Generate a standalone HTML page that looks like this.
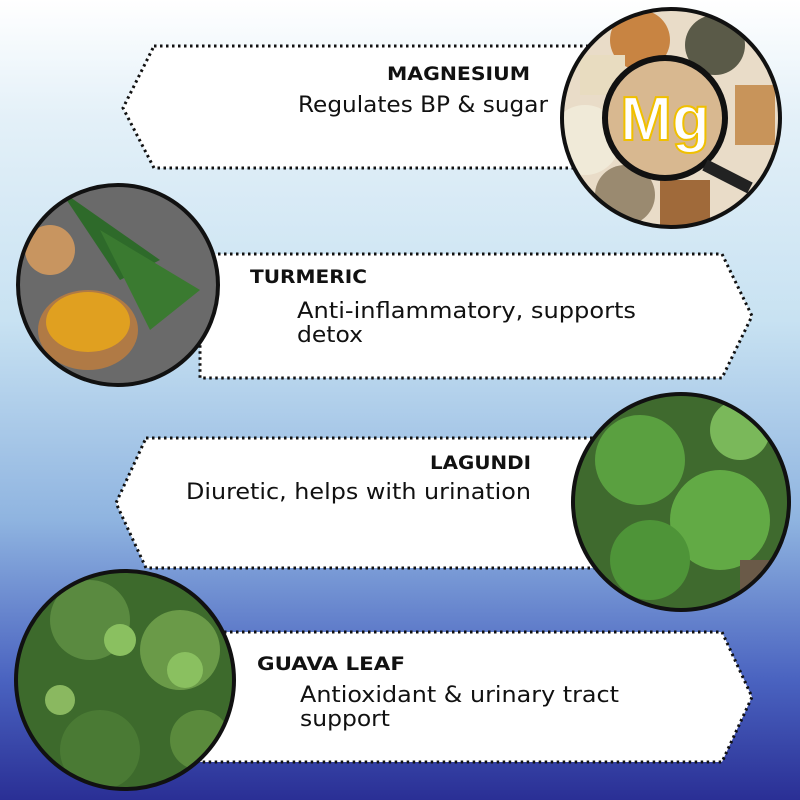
<!DOCTYPE html>
<html><head><meta charset="utf-8"><style>
html,body{margin:0;padding:0}
body{width:800px;height:800px;overflow:hidden;background:linear-gradient(to bottom,#ffffff 0%,#e3f0f8 15%,#c8e2f2 40%,#8fb4e0 65%,#4a63c0 85%,#2a2f95 100%);font-family:"Liberation Sans",sans-serif}
</style></head><body>
<svg width="800" height="800" xmlns="http://www.w3.org/2000/svg" style="position:absolute;left:0;top:0">
<defs>
<clipPath id="c1"><circle cx="671" cy="118" r="108"/></clipPath>
<clipPath id="c2"><circle cx="118" cy="285" r="99"/></clipPath>
<clipPath id="c3"><circle cx="681" cy="502" r="107"/></clipPath>
<clipPath id="c4"><circle cx="125" cy="680" r="108"/></clipPath>
</defs>
<g fill="#fff" stroke="#111" stroke-width="3" stroke-dasharray="2.5 3.5">
<polygon points="154,46 600,46 600,168 154,168 123,108"/>
<polygon points="200,254 722,254 752,316 722,378 200,378"/>
<polygon points="146,438 600,438 600,568 146,568 116,503"/>
<polygon points="200,632 722,632 752,697 722,762 200,762"/>
</g>
<g clip-path="url(#c1)">
<rect x="560" y="8" width="222" height="222" fill="#e9dcc8"/>
<circle cx="640" cy="40" r="30" fill="#c88442"/>
<circle cx="715" cy="45" r="30" fill="#5a5a48"/>
<rect x="580" y="55" width="45" height="40" fill="#e8dcc0"/>
<circle cx="585" cy="140" r="35" fill="#f0ead8"/>
<circle cx="625" cy="195" r="30" fill="#9a8a70"/>
<rect x="660" y="180" width="50" height="45" fill="#a06a3a"/>
<rect x="735" y="85" width="40" height="60" fill="#c8945a"/>
<circle cx="665" cy="118" r="60" fill="#d8b890" stroke="#111" stroke-width="6"/>
<line x1="705" y1="165" x2="750" y2="188" stroke="#222" stroke-width="12"/>
<text x="665" y="140" font-size="62" font-weight="bold" text-anchor="middle" fill="#fff" stroke="#f0c000" stroke-width="2">Mg</text>
</g>
<circle cx="671" cy="118" r="109" fill="none" stroke="#111" stroke-width="4"/>
<g clip-path="url(#c2)">
<rect x="17" y="185" width="202" height="202" fill="#6a6a6a"/>
<path d="M60 190 L160 260 L120 280Z" fill="#2e6a2a"/>
<path d="M100 230 L200 290 L150 330Z" fill="#3a7a30"/>
<circle cx="50" cy="250" r="25" fill="#c89560"/>
<ellipse cx="88" cy="330" rx="50" ry="40" fill="#b07a45"/>
<ellipse cx="88" cy="322" rx="42" ry="30" fill="#e0a020"/>
</g>
<circle cx="118" cy="285" r="100" fill="none" stroke="#111" stroke-width="4"/>
<g clip-path="url(#c3)">
<rect x="572" y="392" width="220" height="220" fill="#3f6a2e"/>
<circle cx="640" cy="460" r="45" fill="#5aa040"/>
<circle cx="720" cy="520" r="50" fill="#62aa45"/>
<circle cx="650" cy="560" r="40" fill="#4e9438"/>
<circle cx="740" cy="430" r="30" fill="#7ab85a"/>
<rect x="740" y="560" width="50" height="50" fill="#6a5a48"/>
</g>
<circle cx="681" cy="502" r="108" fill="none" stroke="#111" stroke-width="4"/>
<g clip-path="url(#c4)">
<rect x="15" y="570" width="222" height="222" fill="#3d6a2c"/>
<circle cx="90" cy="620" r="40" fill="#5a8a40"/>
<circle cx="180" cy="650" r="40" fill="#6a9a48"/>
<circle cx="120" cy="640" r="16" fill="#8ac060"/>
<circle cx="185" cy="670" r="18" fill="#8ac060"/>
<circle cx="60" cy="700" r="15" fill="#8ab860"/>
<circle cx="100" cy="750" r="40" fill="#4a7a34"/>
<circle cx="200" cy="740" r="30" fill="#5a8a3c"/>
</g>
<circle cx="125" cy="680" r="109" fill="none" stroke="#111" stroke-width="4"/>
<g font-family="DejaVu Sans, sans-serif" fill="#111" lengthAdjust="spacingAndGlyphs">
<text x="387" y="80" font-size="19" font-weight="bold" textLength="143" lengthAdjust="spacingAndGlyphs">MAGNESIUM</text>
<text x="298" y="112" font-size="22" textLength="250" lengthAdjust="spacingAndGlyphs">Regulates BP &amp; sugar</text>
<text x="250" y="283" font-size="19" font-weight="bold" textLength="117" lengthAdjust="spacingAndGlyphs">TURMERIC</text>
<text x="297" y="318" font-size="22" textLength="339" lengthAdjust="spacingAndGlyphs">Anti-inflammatory, supports</text>
<text x="297" y="342" font-size="22" textLength="66" lengthAdjust="spacingAndGlyphs">detox</text>
<text x="430" y="469" font-size="19" font-weight="bold" textLength="101" lengthAdjust="spacingAndGlyphs">LAGUNDI</text>
<text x="186" y="499" font-size="22" textLength="345" lengthAdjust="spacingAndGlyphs">Diuretic, helps with urination</text>
<text x="257" y="670" font-size="19" font-weight="bold" textLength="148" lengthAdjust="spacingAndGlyphs">GUAVA LEAF</text>
<text x="300" y="702" font-size="22" textLength="319" lengthAdjust="spacingAndGlyphs">Antioxidant &amp; urinary tract</text>
<text x="300" y="726" font-size="22" textLength="90" lengthAdjust="spacingAndGlyphs">support</text>
</g>
</svg>
</body></html>
